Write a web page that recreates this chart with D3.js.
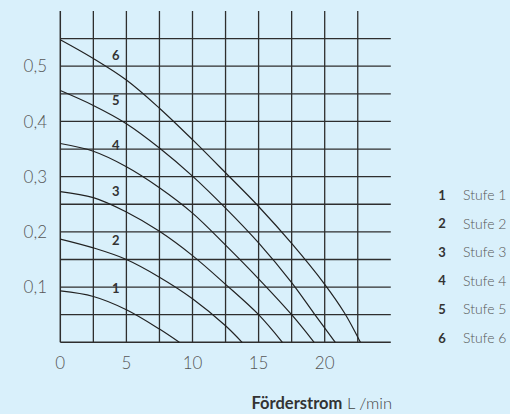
<!DOCTYPE html>
<html>
<head>
<meta charset="utf-8">
<script src="https://cdn.jsdelivr.net/npm/d3@7"></script>
<style>
  body { margin: 0; background: #d9f0fb; }
  svg { display: block; }
</style>
</head>
<body>
<div id="chart"></div>
<script>
// chart data
var stufen = ["1", "2", "3", "4", "5", "6"];
var legendLabels = ["Stufe 1", "Stufe 2", "Stufe 3", "Stufe 4", "Stufe 5", "Stufe 6"];

var stufe1 = [[0, 0.093], [2.5, 0.083], [5, 0.059], [7.5, 0.024], [9.0, 0]];
var stufe2 = [[0, 0.187], [2.5, 0.171], [5, 0.150], [7.5, 0.118], [10, 0.079], [12.5, 0.030], [13.75, 0]];
var stufe3 = [[0, 0.273], [2.5, 0.262], [5, 0.236], [7.5, 0.201], [10, 0.157], [12.5, 0.105], [15, 0.050], [16.8, 0]];
var stufe4 = [[0, 0.360], [2.5, 0.346], [5, 0.318], [7.5, 0.280], [10, 0.234], [12.5, 0.176], [15, 0.115], [17.5, 0.050], [19.2, 0]];
var stufe5 = [[0, 0.456], [2.5, 0.429], [5, 0.396], [7.5, 0.352], [10, 0.301], [12.5, 0.243], [15, 0.180], [17.5, 0.108], [19.2, 0.052], [20.8, 0]];
var stufe6 = [[0, 0.548], [2.5, 0.514], [5, 0.475], [7.5, 0.424], [10, 0.367], [12.5, 0.307], [15, 0.246], [17.5, 0.179], [20, 0.105], [21.5, 0.053], [22.7, 0]];

// where the little curve numbers sit
var curveLabelX = [4.2, 4.2, 4.2, 4.2, 4.2, 4.2];
var curveLabelY = [0.097, 0.184, 0.273, 0.356, 0.439, 0.519];

var xTicks = [0, 5, 10, 15, 20];
var yTicks = [0.1, 0.2, 0.3, 0.4, 0.5];
var xGrid = [2.5, 5, 7.5, 10, 12.5, 15, 17.5, 20, 22.5];
var yGrid = [0.05, 0.1, 0.15, 0.2, 0.25, 0.3, 0.35, 0.4, 0.45, 0.5, 0.55];

var series = [stufe1, stufe2, stufe3, stufe4, stufe5, stufe6];

var svgWidth = 510;
var svgHeight = 414;

var svg = d3.select("#chart")
  .append("svg")
  .attr("width", svgWidth)
  .attr("height", svgHeight);

svg.append("rect")
  .attr("width", svgWidth)
  .attr("height", svgHeight)
  .attr("fill", "#d9f0fb");

var x = d3.scaleLinear().domain([0, 25]).range([60.3, 390.8]);
var y = d3.scaleLinear().domain([0, 0.6]).range([342.3, 11]);

var gridColor = "#2e2e2e";
var labelFont = "Lato, sans-serif";

// horizontal grid
svg.append("g").selectAll("line")
  .data(yGrid)
  .enter()
  .append("line")
  .attr("x1", x(0))
  .attr("x2", x(25))
  .attr("y1", d => y(d))
  .attr("y2", d => y(d))
  .attr("stroke", gridColor)
  .attr("stroke-width", 1.3);

// vertical grid
svg.append("g").selectAll("line")
  .data(xGrid)
  .enter()
  .append("line")
  .attr("x1", d => x(d))
  .attr("x2", d => x(d))
  .attr("y1", y(0))
  .attr("y2", y(0.6))
  .attr("stroke", gridColor)
  .attr("stroke-width", 1.3);

// axes lines
svg.append("line")
  .attr("x1", x(0)).attr("x2", x(0))
  .attr("y1", y(0)).attr("y2", y(0.6))
  .attr("stroke", gridColor).attr("stroke-width", 1.5);
svg.append("line")
  .attr("x1", x(0)).attr("x2", x(25))
  .attr("y1", y(0)).attr("y2", y(0))
  .attr("stroke", gridColor).attr("stroke-width", 1.5);

// tick labels
var fmt = d3.format(".1f");
svg.append("g").selectAll("text")
  .data(yTicks)
  .enter()
  .append("text")
  .attr("x", 47)
  .attr("y", d => y(d))
  .attr("dy", "0.36em")
  .attr("text-anchor", "end")
  .attr("font-family", labelFont)
  .attr("font-weight", 300)
  .attr("font-size", "17px")
  .attr("fill", "#575757")
  .text(d => fmt(d).replace(".", ","));

svg.append("g").selectAll("text")
  .data(xTicks)
  .enter()
  .append("text")
  .attr("x", d => x(d))
  .attr("y", 363)
  .attr("dy", "0.36em")
  .attr("text-anchor", "middle")
  .attr("font-family", labelFont)
  .attr("font-weight", 300)
  .attr("font-size", "17px")
  .attr("fill", "#575757")
  .text(d => d);

// curves
var line = d3.line()
  .x(d => x(d[0]))
  .y(d => y(d[1]))
  .curve(d3.curveCatmullRom.alpha(0.5));

svg.append("g").selectAll("path")
  .data(series)
  .enter()
  .append("path")
  .attr("d", line)
  .attr("fill", "none")
  .attr("stroke", "#222")
  .attr("stroke-width", 1.2);

// curve numbers
svg.append("g").selectAll("text")
  .data(stufen)
  .enter()
  .append("text")
  .attr("x", (d, i) => x(curveLabelX[i]))
  .attr("y", (d, i) => y(curveLabelY[i]))
  .attr("dy", "0.36em")
  .attr("text-anchor", "middle")
  .attr("font-family", labelFont)
  .attr("font-weight", 700)
  .attr("font-size", "13px")
  .attr("fill", "#333")
  .text(d => d);

// legend
var legend = svg.append("g").selectAll("g")
  .data(stufen)
  .enter()
  .append("g")
  .attr("transform", (d, i) => `translate(0, ${195 + i * 28.6})`);

legend.append("text")
  .attr("x", 442)
  .attr("dy", "0.36em")
  .attr("text-anchor", "middle")
  .attr("font-family", labelFont)
  .attr("font-weight", 700)
  .attr("font-size", "13px")
  .attr("fill", "#333")
  .text(d => d);

legend.append("text")
  .attr("x", 463)
  .attr("dy", "0.36em")
  .attr("font-family", labelFont)
  .attr("font-weight", 300)
  .attr("font-size", "14px")
  .attr("fill", "#575757")
  .text((d, i) => legendLabels[i]);

// axis title
var title = svg.append("text")
  .attr("x", 392)
  .attr("y", 403)
  .attr("dy", "0.36em")
  .attr("text-anchor", "end")
  .attr("font-family", labelFont)
  .attr("font-size", "16.5px")
  .attr("fill", "#333");
title.append("tspan").attr("font-weight", 700).text("Förderstrom");
title.append("tspan").attr("font-weight", 300).attr("fill", "#444").text(" L /min");
</script>
</body>
</html>
